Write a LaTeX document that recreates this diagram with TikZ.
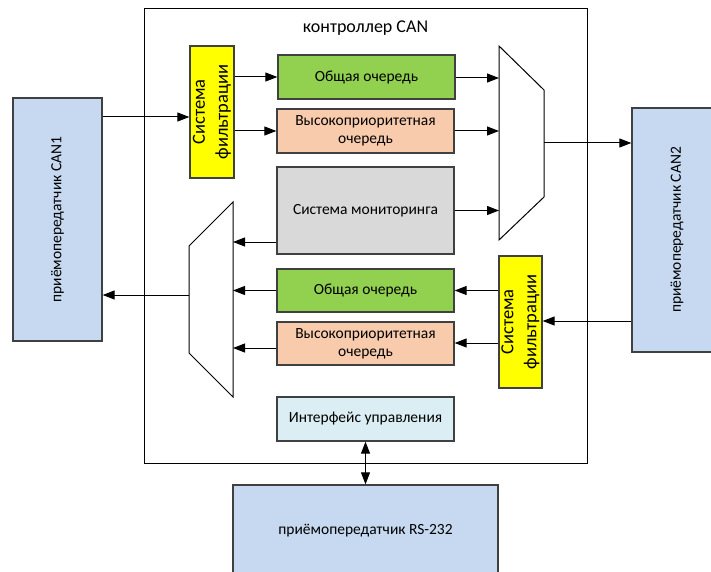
\documentclass[tikz,border=0pt]{standalone}
\usepackage{fontspec}
\setmainfont{Carlito}
\usetikzlibrary{arrows.meta,calc}
\definecolor{bord}{HTML}{404040}
\definecolor{cgreen}{HTML}{92D050}
\definecolor{corange}{HTML}{F8CBAD}
\definecolor{cgrey}{HTML}{D9D9D9}
\definecolor{cyellow}{HTML}{FFFF00}
\definecolor{cblue}{HTML}{C6D9F0}
\definecolor{clight}{HTML}{DAEEF3}
\tikzset{
  blk/.style={draw=bord, line width=1.3pt, inner sep=0pt, align=center,
    font=\fontsize{15.5}{18}\selectfont},
  filt/.style={blk, fill=cyellow, rotate=90, font=\fontsize{18.5}{23}\selectfont},
  arr/.style={draw=black, line width=1pt, -{Triangle[length=12pt,width=9pt]}},
  darr/.style={draw=black, line width=1pt, {Triangle[length=12pt,width=9pt]}-{Triangle[length=12pt,width=9pt]}},
  mux/.style={draw=black, line width=1pt}
}
\begin{document}
\begin{tikzpicture}[x=1pt,y=-1pt]
\useasboundingbox (0,0) rectangle (711,572);
\fill[white] (0,0) rectangle (711,572);
% controller
\node[draw=black, line width=1pt, minimum width=443pt, minimum height=454pt] (ctrl) at (365.5,236) {};
\node[font=\fontsize{18}{21}\selectfont] (title) at (365.5,28) {контроллер CAN};
% transceivers (rotated: .north is the left side, .south the right side)
\node[blk, fill=cblue, rotate=90, minimum width=243pt, minimum height=89pt] (can1) at (57.5,219.5) {приёмопередатчик CAN1};
\node[blk, fill=cblue, rotate=90, minimum width=244pt, minimum height=90pt] (can2) at (677,230) {приёмопередатчик CAN2};
\node[blk, fill=cblue, minimum width=265pt, minimum height=91pt] (rs) at (365.5,530.5) {приёмопередатчик RS-232};
% filters
\node[filt, minimum width=132pt, minimum height=44pt] (f1) at (212,112) {Система\\фильтрации};
\node[filt, minimum width=132pt, minimum height=43pt] (f2) at (520.5,322) {Система\\фильтрации};
% queues
\node[blk, fill=cgreen, minimum width=177pt, minimum height=44pt] (g1) at (366.5,77) {Общая очередь};
\node[blk, fill=corange, minimum width=177pt, minimum height=44pt] (o1) at (365.5,131) {Высокоприоритетная\\очередь};
\node[blk, fill=cgrey, minimum width=177pt, minimum height=87pt] (mon) at (365.5,210.5) {Система мониторинга};
\node[blk, fill=cgreen, minimum width=177pt, minimum height=43pt] (g2) at (365.5,290.5) {Общая очередь};
\node[blk, fill=corange, minimum width=177pt, minimum height=43pt] (o2) at (365.5,343.5) {Высокоприоритетная\\очередь};
\node[blk, fill=clight, minimum width=177pt, minimum height=44pt] (ifc) at (365.5,419) {Интерфейс управления};
% multiplexers
\coordinate (rA) at (499,46);
\coordinate (rB) at (544,90);
\coordinate (rC) at (544,197);
\coordinate (rD) at (499,240);
\draw[mux] (rA) -- (rB) -- (rC) -- (rD) -- cycle;
\coordinate (lA) at (233,202);
\coordinate (lB) at (189,246);
\coordinate (lC) at (189,353);
\coordinate (lD) at (233,397);
\draw[mux] (lA) -- (lB) -- (lC) -- (lD) -- cycle;
% connectors
\draw[arr] (can1.south |- 0,117) -- (f1.north |- 0,117);
\draw[arr] (f1.south |- g1.west) -- (g1.west);
\draw[arr] (f1.south |- o1.west) -- (o1.west);
\draw[arr] (g1.east |- 0,78) -- (rA |- 0,78);
\draw[arr] (o1.east) -- (rA |- o1.east);
\draw[arr] (mon.east) -- (rA |- mon.east);
\draw[arr] (rB |- 0,143) -- (can2.north |- 0,143);
\draw[arr] (mon.west |- 0,242) -- (lA |- 0,242);
\draw[arr] (g2.west) -- (lA |- g2.west);
\draw[arr] (o2.west |- 0,348) -- (lA |- 0,348);
\draw[arr] (lB |- 0,295) -- (can1.south |- 0,295);
\draw[arr] (can2.north |- 0,321) -- (f2.south |- 0,321);
\draw[arr] (f2.north |- g2.east) -- (g2.east);
\draw[arr] (f2.north |- 0,343) -- (o2.east |- 0,343);
\draw[darr] (ifc.south) -- (ifc.south |- rs.north);
\end{tikzpicture}
\end{document}
